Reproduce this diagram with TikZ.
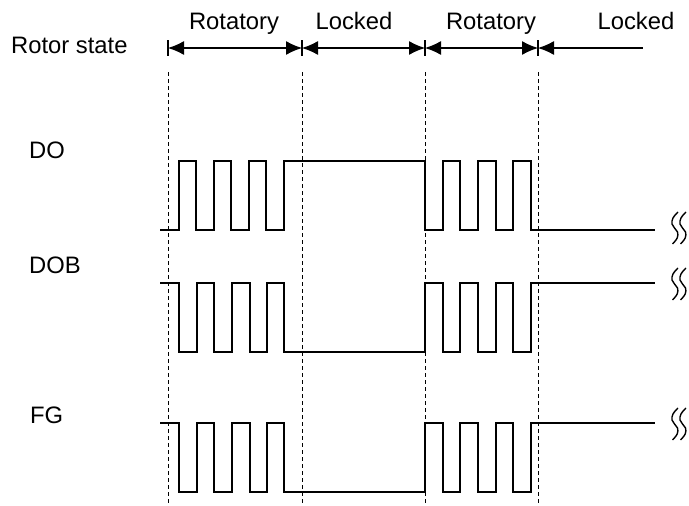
\documentclass[tikz,border=0pt]{standalone}
\usepackage{fontspec}
\setmainfont{Liberation Sans}
\usetikzlibrary{arrows.meta}
\begin{document}
\begin{tikzpicture}[x=1pt,y=-1pt,
  lbl/.style={inner sep=0pt,font=\fontsize{23.8}{28}\selectfont},
  guide/.style={line width=0.8pt,dash pattern=on 4pt off 3pt},
  wave/.style={line width=2.3pt,line join=miter},
  span/.style={line width=1.2pt,{Latex[length=16pt,width=14pt]}-{Latex[length=16pt,width=14pt]}},
  lspan/.style={line width=1.2pt,{Latex[length=16pt,width=14pt]}-},
  tickmark/.style={line width=1.2pt},
  brk/.pic={
    \draw[line width=1.4pt] plot[smooth,tension=0.7] coordinates {(7,-16) (2,-10) (1,-4) (3.5,0) (6.5,4) (6.2,10) (1.5,16)};
    \draw[line width=1.4pt] plot[smooth,tension=0.7] coordinates {(15,-16) (10,-10) (9,-4) (11.5,0) (14.5,4) (14.2,10) (9.5,16)};
  }]
\useasboundingbox (0,0) rectangle (689,506);
% tick coordinates
\coordinate (t1) at (168,48);
\coordinate (t2) at (302,48);
\coordinate (t3) at (425,48);
\coordinate (t4) at (538,48);
\coordinate (tend) at (643,48);
% labels
\node[lbl,anchor=base west] (rs) at (11,53) {Rotor state};
\node[lbl,anchor=base west] (do) at (29,158) {DO};
\node[lbl,anchor=base west] (dob) at (29,273) {DOB};
\node[lbl,anchor=base west] (fg) at (30,423) {FG};
\node[lbl,anchor=base] (r1) at (234,29) {Rotatory};
\node[lbl,anchor=base] (l1) at (354,29) {Locked};
\node[lbl,anchor=base] (r2) at (491,29) {Rotatory};
\node[lbl,anchor=base] (l2) at (636,29) {Locked};
% ticks and guides
\foreach \t in {t1,t2,t3,t4}{
  \draw[tickmark] ([yshift=8pt]\t) -- ([yshift=-8pt]\t);
  \draw[guide] ([yshift=-24pt]\t) -- ([yshift=-458pt]\t);
}
% arrows
\draw[span] (t1) -- (t2);
\draw[span] (t2) -- (t3);
\draw[span] (t3) -- (t4);
\draw[lspan] (t4) -- (tend);
% DO
\draw[wave] (160,230) -| (179,161) -| (196,230) -| (214,161) -| (231,230) -| (249,161) -| (266,230) -| (284,161) -| (425,230) -| (443,161) -| (460,230) -| (478,161) -| (496,230) -| (513,161) -| (531,230) -- (655,230);
% DOB
\draw[wave] (160,283) -| (179,352) -| (197,283) -| (214,352) -| (232,283) -| (250,352) -| (267,283) -| (284,352) -| (425,283) -| (443,352) -| (460,283) -| (478,352) -| (496,283) -| (513,352) -| (531,283) -- (655,283);
% FG
\draw[wave] (160,423) -| (179,492) -| (197,423) -| (214,492) -| (232,423) -| (250,492) -| (267,423) -| (284,492) -| (425,423) -| (443,492) -| (460,423) -| (478,492) -| (496,423) -| (513,492) -| (531,423) -- (655,423);
% breaks
\pic at (671,228) {brk};
\pic at (671,284) {brk};
\pic at (671,424) {brk};
\end{tikzpicture}
\end{document}
